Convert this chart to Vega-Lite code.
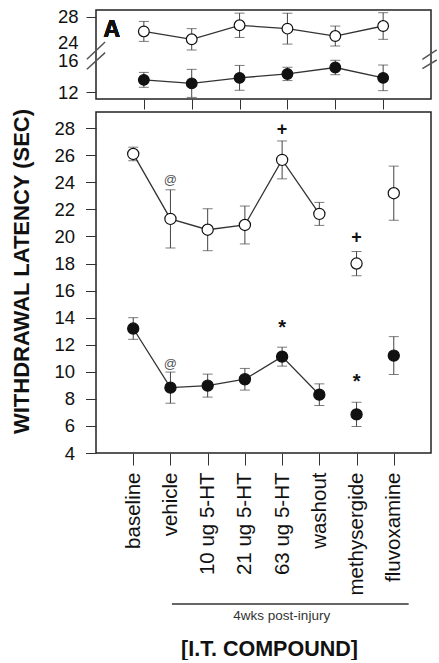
{
  "$schema": "https://vega.github.io/schema/vega-lite/v6.json",
  "padding": {"left": 10, "top": 6, "right": 2, "bottom": 0},
  "spacing": 13,
  "bounds": "flush",
  "config": {
    "font": "Liberation Sans",
    "view": {"stroke": "#222", "strokeWidth": 1.5},
    "axis": {"grid": false, "domain": false, "labelFont": "Liberation Sans", "labelColor": "#111", "tickColor": "#333", "tickWidth": 1, "labelFontSize": 18.5, "titleFont": "Liberation Sans", "titleColor": "#111"}
  },
  "datasets": {
    "a": [
      {"t": 1, "grp": "open", "v": 25.7, "se": 1.55},
      {"t": 2, "grp": "open", "v": 24.47, "se": 1.66},
      {"t": 3, "grp": "open", "v": 26.65, "se": 1.89},
      {"t": 4, "grp": "open", "v": 26.13, "se": 2.4},
      {"t": 5, "grp": "open", "v": 24.98, "se": 1.55},
      {"t": 6, "grp": "open", "v": 26.54, "se": 2.07},
      {"t": 1, "grp": "filled", "v": 13.56, "se": 0.93},
      {"t": 2, "grp": "filled", "v": 13.12, "se": 1.75},
      {"t": 3, "grp": "filled", "v": 13.81, "se": 1.55},
      {"t": 4, "grp": "filled", "v": 14.3, "se": 0.83},
      {"t": 5, "grp": "filled", "v": 15.1, "se": 0.9},
      {"t": 6, "grp": "filled", "v": 13.81, "se": 1.6}
    ],
    "b": [
      {"cond": "baseline", "grp": "open", "v": 26.1, "se": 0.5, "conn": 1},
      {"cond": "vehicle", "grp": "open", "v": 21.3, "se": 2.15, "conn": 1},
      {"cond": "10 ug 5-HT", "grp": "open", "v": 20.5, "se": 1.55, "conn": 1},
      {"cond": "21 ug 5-HT", "grp": "open", "v": 20.85, "se": 1.4, "conn": 1},
      {"cond": "63 ug 5-HT", "grp": "open", "v": 25.66, "se": 1.4, "conn": 1},
      {"cond": "washout", "grp": "open", "v": 21.67, "se": 0.85, "conn": 1},
      {"cond": "methysergide", "grp": "open", "v": 18.0, "se": 0.9, "conn": 0},
      {"cond": "fluvoxamine", "grp": "open", "v": 23.2, "se": 2.0, "conn": 0},
      {"cond": "baseline", "grp": "filled", "v": 13.2, "se": 0.8, "conn": 1},
      {"cond": "vehicle", "grp": "filled", "v": 8.83, "se": 1.15, "conn": 1},
      {"cond": "10 ug 5-HT", "grp": "filled", "v": 8.98, "se": 0.85, "conn": 1},
      {"cond": "21 ug 5-HT", "grp": "filled", "v": 9.45, "se": 0.8, "conn": 1},
      {"cond": "63 ug 5-HT", "grp": "filled", "v": 11.12, "se": 0.7, "conn": 1},
      {"cond": "washout", "grp": "filled", "v": 8.31, "se": 0.8, "conn": 1},
      {"cond": "methysergide", "grp": "filled", "v": 6.85, "se": 0.9, "conn": 0},
      {"cond": "fluvoxamine", "grp": "filled", "v": 11.2, "se": 1.4, "conn": 0}
    ],
    "ann": [
      {"cond": "vehicle", "v": 24.2, "sym": "@"},
      {"cond": "63 ug 5-HT", "v": 27.87, "sym": "+"},
      {"cond": "methysergide", "v": 19.87, "sym": "+"},
      {"cond": "vehicle", "v": 10.58, "sym": "@"},
      {"cond": "63 ug 5-HT", "v": 13.54, "sym": "*"},
      {"cond": "methysergide", "v": 9.52, "sym": "*"}
    ]
  },
  "vconcat": [
    {
      "width": 335,
      "height": 89,
      "resolve": {"scale": {"x": "independent", "y": "independent"}},
      "layer": [
        {
          "data": {"name": "a"},
          "encoding": {
            "x": {"field": "t", "type": "ordinal", "scale": {"type": "point", "padding": 1}, "axis": {"labels": false, "tickSize": 10, "title": null}},
            "y": {"field": "v", "type": "quantitative", "title": null,
              "scale": {"domain": [11.17, 16, 22, 29.03], "range": [89, 50.3, 45.2, 0], "nice": false, "zero": false},
              "axis": {"values": [12, 16, 24, 28], "tickSize": 10, "labelPadding": 8, "labelOverlap": false, "labelBound": false,
                "tickOpacity": {"condition": {"test": "datum.value == 16 || datum.value == 24", "value": 0}, "value": 1}}}
          },
          "layer": [
            {"mark": {"type": "errorbar", "ticks": {"size": 10}, "color": "#444", "thickness": 1}, "encoding": {"yError": {"field": "se"}, "detail": {"field": "grp"}}},
            {"mark": {"type": "line", "color": "#333", "strokeWidth": 1.3}, "encoding": {"detail": {"field": "grp"}}},
            {"mark": {"type": "point", "shape": "circle", "filled": true, "stroke": "#111", "strokeWidth": 1.2, "size": 115, "opacity": 1},
              "encoding": {"fill": {"field": "grp", "type": "nominal", "scale": {"domain": ["open", "filled"], "range": ["white", "#111"]}, "legend": null}}},
            {"mark": {"type": "text", "text": "A", "fontSize": 23, "fontWeight": "bold", "color": "#111", "dx": -32},
              "encoding": {"x": {"datum": 1, "type": "ordinal"}, "y": {"datum": 25.85, "type": "quantitative"}}}
          ]
        },
        {"data": {"values": [{}]}, "mark": {"type": "rule", "color": "#555", "strokeWidth": 1.5},
          "encoding": {"x": {"datum": -0.19, "type": "quantitative", "scale": {"domain": [0, 7], "nice": false, "zero": false}, "axis": null}, "x2": {"datum": 0.19},
            "y": {"datum": 17.18, "type": "quantitative", "scale": {"domain": [11.17, 16, 22, 29.03], "range": [89, 50.3, 45.2, 0], "nice": false, "zero": false}, "axis": null}, "y2": {"datum": 24.05}}},
        {"data": {"values": [{}]}, "mark": {"type": "rule", "color": "#555", "strokeWidth": 1.5},
          "encoding": {"x": {"datum": -0.19, "type": "quantitative", "scale": {"domain": [0, 7], "nice": false, "zero": false}, "axis": null}, "x2": {"datum": 0.19},
            "y": {"datum": 14.88, "type": "quantitative", "scale": {"domain": [11.17, 16, 22, 29.03], "range": [89, 50.3, 45.2, 0], "nice": false, "zero": false}, "axis": null}, "y2": {"datum": 22.4}}},
        {"data": {"values": [{}]}, "mark": {"type": "rule", "color": "#555", "strokeWidth": 1.5},
          "encoding": {"x": {"datum": 6.82, "type": "quantitative", "scale": {"domain": [0, 7], "nice": false, "zero": false}, "axis": null}, "x2": {"datum": 7.12},
            "y": {"datum": 17.18, "type": "quantitative", "scale": {"domain": [11.17, 16, 22, 29.03], "range": [89, 50.3, 45.2, 0], "nice": false, "zero": false}, "axis": null}, "y2": {"datum": 22.81}}},
        {"data": {"values": [{}]}, "mark": {"type": "rule", "color": "#555", "strokeWidth": 1.5},
          "encoding": {"x": {"datum": 6.82, "type": "quantitative", "scale": {"domain": [0, 7], "nice": false, "zero": false}, "axis": null}, "x2": {"datum": 7.12},
            "y": {"datum": 14.97, "type": "quantitative", "scale": {"domain": [11.17, 16, 22, 29.03], "range": [89, 50.3, 45.2, 0], "nice": false, "zero": false}, "axis": null}, "y2": {"datum": 16.35}}}
      ]
    },
    {
      "width": 335,
      "height": 341,
      "encoding": {
        "x": {"field": "cond", "type": "nominal", "sort": ["baseline", "vehicle", "10 ug 5-HT", "21 ug 5-HT", "63 ug 5-HT", "washout", "methysergide", "fluvoxamine"],
          "scale": {"type": "point", "padding": 1},
          "axis": {"title": null, "labelAngle": -90, "labelFontSize": 20.5, "tickSize": 12, "labelPadding": 7}},
        "y": {"field": "v", "type": "quantitative", "title": "WITHDRAWAL LATENCY (SEC)",
          "scale": {"domain": [4, 29.2], "nice": false, "zero": false},
          "axis": {"values": [4, 6, 8, 10, 12, 14, 16, 18, 20, 22, 24, 26, 28], "tickSize": 10.5, "labelPadding": 11,
            "titleFontSize": 22, "titleFontWeight": "bold", "titlePadding": 20, "titleY": 159}}
      },
      "layer": [
        {"data": {"name": "b"}, "mark": {"type": "errorbar", "ticks": {"size": 10}, "color": "#444", "thickness": 1}, "encoding": {"yError": {"field": "se"}, "detail": {"field": "grp"}}},
        {"data": {"name": "b"}, "transform": [{"filter": "datum.conn == 1"}], "mark": {"type": "line", "color": "#333", "strokeWidth": 1.3}, "encoding": {"detail": {"field": "grp"}}},
        {"data": {"name": "b"}, "mark": {"type": "point", "shape": "circle", "filled": true, "stroke": "#111", "strokeWidth": 1.2, "size": 125, "opacity": 1},
          "encoding": {"fill": {"field": "grp", "type": "nominal", "scale": {"domain": ["open", "filled"], "range": ["white", "#111"]}, "legend": null}}},
        {"data": {"name": "ann"}, "transform": [{"filter": "datum.sym == '@'"}], "mark": {"type": "text", "fontSize": 13, "color": "#555"}, "encoding": {"text": {"field": "sym"}}},
        {"data": {"name": "ann"}, "transform": [{"filter": "datum.sym == '+'"}], "mark": {"type": "text", "fontSize": 18, "fontWeight": "bold", "color": "#111"}, "encoding": {"text": {"field": "sym"}}},
        {"data": {"name": "ann"}, "transform": [{"filter": "datum.sym == '*'"}], "mark": {"type": "text", "fontSize": 20, "fontWeight": "bold", "color": "#111", "dy": 4}, "encoding": {"text": {"field": "sym"}}},
        {"data": {"values": [{}]}, "mark": {"type": "text", "text": "B", "fontSize": 23, "fontWeight": "bold", "color": "#111", "dx": -21},
          "encoding": {"x": {"datum": "baseline"}, "y": {"datum": 26.7}}}
      ]
    },
    {
      "width": 335,
      "height": 158,
      "view": {"stroke": null},
      "data": {"values": [{}]},
      "layer": [
        {"mark": {"type": "rule", "color": "#333", "strokeWidth": 1.5},
          "encoding": {
            "x": {"datum": 2.04, "type": "quantitative", "scale": {"domain": [0, 9]},
              "axis": {"title": "[I.T. COMPOUND]", "labels": false, "ticks": false, "domain": false, "titleFontSize": 21.5, "titleFontWeight": "bold", "titlePadding": 14, "titleX": 173}},
            "x2": {"datum": 8.4},
            "y": {"datum": 0.1266, "type": "quantitative", "scale": {"domain": [0, 1]}, "axis": null}}},
        {"mark": {"type": "text", "text": "4wks post-injury", "fontSize": 13.5, "color": "#333"},
          "encoding": {"x": {"datum": 4.99, "type": "quantitative"}, "y": {"datum": 0.0506, "type": "quantitative"}}}
      ]
    }
  ]
}
